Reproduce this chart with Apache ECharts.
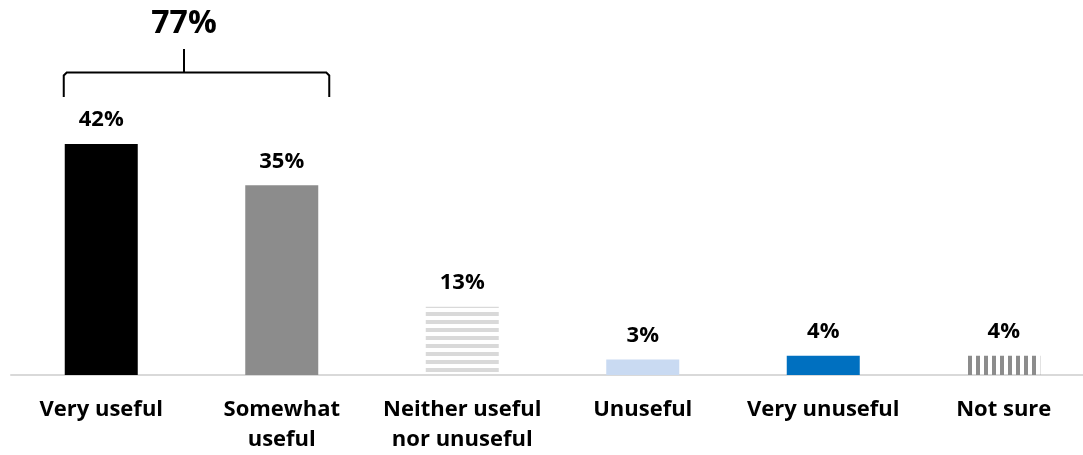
<!DOCTYPE html>
<html>
<head>
<meta charset="utf-8">
<script src="https://cdn.jsdelivr.net/npm/echarts@6/dist/echarts.min.js"></script>
<style>
html,body{margin:0;padding:0;background:#fff;}
#chart{width:1083px;height:455px;}
</style>
</head>
<body>
<div id="chart"></div>
<script>
const categories = ["Very useful", "Somewhat\nuseful", "Neither useful\nnor unuseful", "Unuseful", "Very unuseful", "Not sure"];
const values = [42, 34.5, 12.4, 2.8, 3.5, 3.5];
const valueLabels = ["42%", "35%", "13%", "3%", "4%", "4%"];
const groupLabel = "77%";
const groupIndices = [0, 1];

const FONT = "'Open Sans'";

function stripePattern(horizontal, color) {
  const c = document.createElement('canvas');
  c.width = 8; c.height = 8;
  const ctx = c.getContext('2d');
  ctx.fillStyle = color;
  if (horizontal) ctx.fillRect(0, 0, 8, 4);
  else ctx.fillRect(0, 0, 4, 8);
  return { image: c, repeat: 'repeat' };
}

const colors = [
  '#000000',
  '#8c8c8c',
  stripePattern(true, '#d9d9d9'),
  '#c9daf2',
  '#0070c0',
  stripePattern(false, '#8c8c8c')
];

const chart = echarts.init(document.getElementById('chart'));
chart.setOption({
  animation: false,
  grid: { left: 11, width: 1083, top: 100, bottom: 80, containLabel: false, outerBoundsMode: 'none' },
  xAxis: {
    type: 'category',
    data: categories,
    axisLine: { show: true, lineStyle: { color: '#d9d9d9', width: 2 } },
    axisTick: { show: false },
    axisLabel: {
      interval: 0,
      margin: 20,
      fontFamily: FONT,
      fontWeight: 'bold',
      fontSize: 22,
      color: '#000',
      lineHeight: 30
    }
  },
  yAxis: { type: 'value', min: 0, max: 50, show: false, splitLine: { show: false } },
  series: [{
    type: 'bar',
    barWidth: 73,
    data: values.map((v, i) => ({ value: v, itemStyle: { color: colors[i] } })),
    label: {
      show: true,
      position: 'top',
      distance: 13,
      fontFamily: FONT,
      fontWeight: 'bold',
      fontSize: 22,
      color: '#000',
      formatter: p => valueLabels[p.dataIndex]
    }
  }]
});

// bracket annotation above grouped bars
const p0 = chart.convertToPixel({ xAxisIndex: 0, yAxisIndex: 0 }, [groupIndices[0], 0]);
const p1 = chart.convertToPixel({ xAxisIndex: 0, yAxisIndex: 0 }, [groupIndices[1], 0]);
const xl = p0[0] - 37.5, xr = p1[0] + 47.5;
const xm = (p0[0] + p1[0]) / 2 - 7.5;
const yLine = 72.5, yEnd = 97, yTick = 49;
chart.setOption({
  graphic: [
    {
      type: 'polyline',
      shape: { points: [[xl, yEnd], [xl, yLine + 3], [xl + 3, yLine], [xr - 3, yLine], [xr, yLine + 3], [xr, yEnd]] },
      style: { stroke: '#000', lineWidth: 2, fill: null }
    },
    {
      type: 'line',
      shape: { x1: xm, y1: yTick, x2: xm, y2: yLine },
      style: { stroke: '#000', lineWidth: 2 }
    },
    {
      type: 'text',
      x: xm, y: 24,
      style: {
        text: groupLabel, fill: '#000', font: 'bold 32px ' + FONT,
        textAlign: 'center', textVerticalAlign: 'middle'
      }
    }
  ]
});
</script>
</body>
</html>
